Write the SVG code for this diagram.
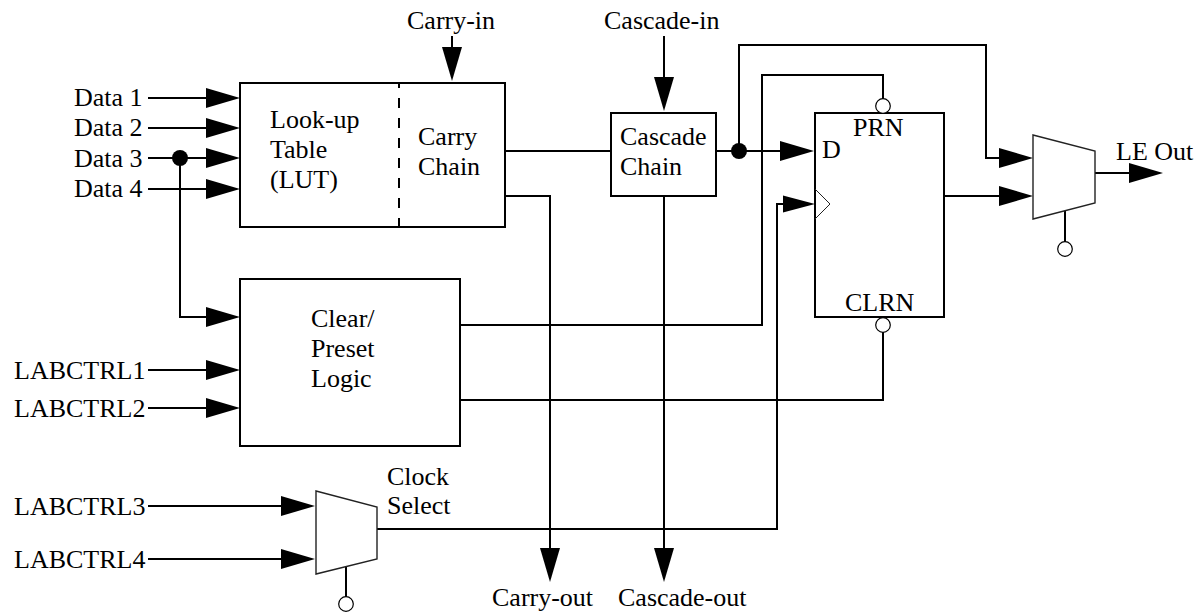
<svg xmlns="http://www.w3.org/2000/svg" width="1204" height="612" viewBox="0 0 1204 612">
<style>
text{font-family:"Liberation Serif","Times New Roman",serif;font-size:26px;fill:#000}
.box{fill:#fff;stroke:#000;stroke-width:2}
.mux{fill:#fff;stroke:#222;stroke-width:1.4}
.w{fill:none;stroke:#000;stroke-width:2}
.bub{fill:#fff;stroke:#000;stroke-width:1.2}
</style>
<defs>
<polygon id="ar" points="-34,-10 0,0 -34,10" fill="#000"/>
<polygon id="ad" points="-10,-34 0,0 10,-34" fill="#000"/>
</defs>
<rect width="1204" height="612" fill="#fff"/>
<g id="connectors">
<path class="w" d="M148 98H206M148 128H206M148 158H206M148 189H206"/>
<path class="w" d="M180 158V317H206"/>
<path class="w" d="M148 370H206M148 408H206"/>
<path class="w" d="M148 506H282M148 559H282"/>
<path class="w" d="M452 36V50M664 36V80"/>
<path class="w" d="M505 151H611"/>
<path class="w" d="M505 196H550V550"/>
<path class="w" d="M664 196V550"/>
<path class="w" d="M460 325H762V75H883V99"/>
<path class="w" d="M460 400H883V332"/>
<path class="w" d="M716 151H782"/>
<path class="w" d="M739 151V45H986V158H1000"/>
<path class="w" d="M944 196H1000"/>
<path class="w" d="M1095 173H1130"/>
<path class="w" d="M377 529H777V204H785"/>
<path class="w" d="M1065 211V242"/>
<path class="w" d="M346 567V598"/>
<use href="#ar" x="240" y="98"/><use href="#ar" x="240" y="128"/><use href="#ar" x="240" y="158"/><use href="#ar" x="240" y="189"/>
<use href="#ar" x="240" y="317"/><use href="#ar" x="240" y="370"/><use href="#ar" x="240" y="408"/>
<use href="#ar" x="315" y="506"/><use href="#ar" x="315" y="559"/>
<use href="#ar" x="814" y="151"/><use href="#ar" x="1033" y="158"/><use href="#ar" x="1033" y="196"/><use href="#ar" x="1163" y="173"/>
<polygon points="783,195.500 815,204 783,212.500" fill="#000"/>
<use href="#ad" x="452" y="81"/><use href="#ad" x="664" y="111"/><use href="#ad" x="550" y="582"/><use href="#ad" x="664" y="582"/>
<circle cx="180" cy="158" r="8" fill="#000"/>
<circle cx="739" cy="151" r="8" fill="#000"/>
</g>
<g id="lut">
<rect class="box" x="240" y="83" width="265" height="144"/>
<path d="M399 83V227" fill="none" stroke="#000" stroke-width="2" stroke-dasharray="10 10" stroke-dashoffset="5"/>
<text x="270" y="128">Look-up</text><text x="270" y="158">Table</text><text x="270" y="188">(LUT)</text>
<text x="418" y="145">Carry</text><text x="418" y="175">Chain</text>
</g>
<g id="clear-preset">
<rect class="box" x="240" y="279" width="220" height="167"/>
<text x="311" y="327">Clear/</text><text x="311" y="357">Preset</text><text x="311" y="387">Logic</text>
</g>
<g id="cascade">
<rect class="box" x="611" y="113" width="105" height="83"/>
<text x="620" y="145">Cascade</text><text x="620" y="175">Chain</text>
</g>
<g id="flipflop">
<rect class="box" x="815" y="113" width="129" height="204"/>
<polyline points="815,189 830,204 815,219" fill="none" stroke="#222" stroke-width="1"/>
<circle class="bub" cx="883" cy="106" r="7.300"/>
<circle class="bub" cx="883" cy="325" r="7.300"/>
<text x="853" y="136">PRN</text><text x="822" y="158">D</text><text x="845" y="311">CLRN</text>
</g>
<g id="mux-out">
<polygon class="mux" points="1033,135 1095,151 1095,203 1033,219"/>
<circle class="bub" cx="1065" cy="249" r="7.300"/>
</g>
<g id="mux-clock">
<polygon class="mux" points="316,491 377,507 377,559 316,574"/>
<circle class="bub" cx="346" cy="604" r="7.300"/>
</g>
<g id="labels">
<text x="74" y="106">Data 1</text><text x="74" y="136">Data 2</text><text x="74" y="167">Data 3</text><text x="74" y="197">Data 4</text>
<text x="407" y="29">Carry-in</text><text x="604" y="29">Cascade-in</text>
<text x="1116" y="160">LE Out</text>
<text x="14" y="379">LABCTRL1</text><text x="14" y="417">LABCTRL2</text><text x="14" y="515">LABCTRL3</text><text x="14" y="568">LABCTRL4</text>
<text x="387" y="485">Clock</text><text x="387" y="514">Select</text>
<text x="492" y="606">Carry-out</text><text x="618" y="606">Cascade-out</text>
</g>
</svg>
